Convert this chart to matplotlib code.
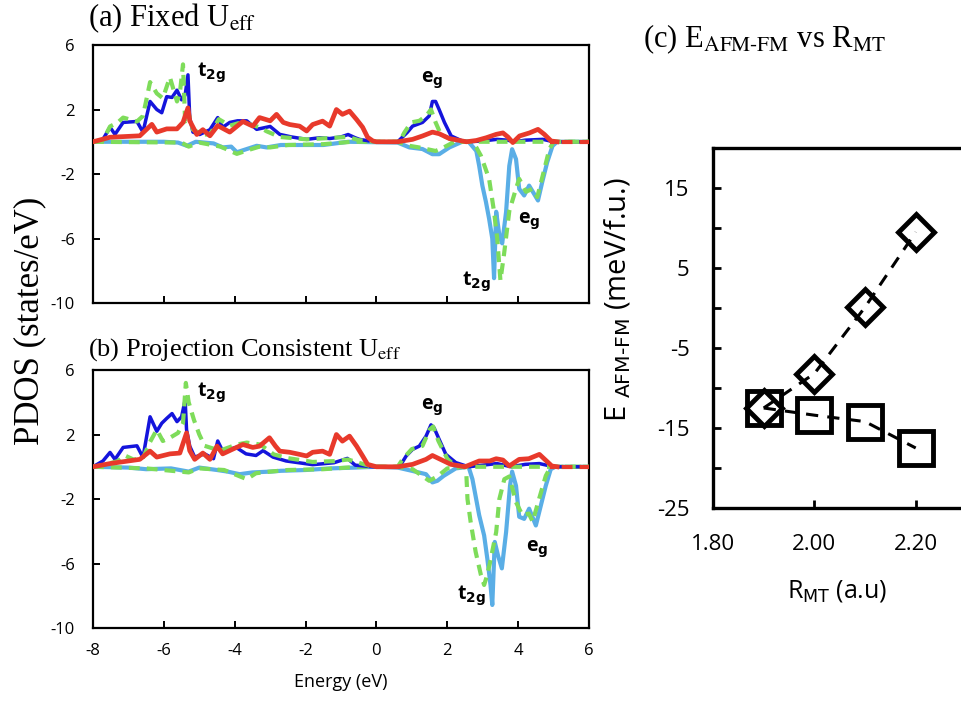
import numpy as np
import matplotlib
matplotlib.use("Agg")
import matplotlib.pyplot as plt

plt.rcParams["axes.unicode_minus"] = False

# ---- PDOS data, (energy eV, states/eV) ----
a_blue_up = [(-8.0, 0), (-7.72, 0.15), (-7.52, 0.9), (-7.38, 0.46), (-7.15, 1.2), (-6.76, 1.26), (-6.59, 0.6),
             (-6.39, 2.5), (-6.2, 2.0), (-6.06, 1.8), (-5.92, 2.8), (-5.77, 2.75), (-5.63, 3.2), (-5.5, 2.6),
             (-5.4, 2.9), (-5.32, 4.15), (-5.27, 1.5), (-5.18, 0.6), (-4.99, 0.45), (-4.7, 0.75), (-4.48, 1.5),
             (-4.34, 0.9), (-4.14, 1.2), (-3.92, 1.3), (-3.66, 1.3), (-3.38, 0.77), (-3.0, 0.95), (-2.73, 0.46),
             (-2.4, 0.3), (-1.97, 0.15), (-1.6, 0.25), (-1.32, 0.2), (-1.0, 0.3), (-0.8, 0.45), (-0.6, 0.25),
             (-0.48, 0.15), (-0.2, 0.05), (0.0, 0), (0.6, 0), (0.87, 0.58), (1.02, 0.97), (1.3, 1.2), (1.49, 1.6),
             (1.58, 2.5), (1.67, 2.5), (1.77, 2.0), (1.92, 1.2), (2.11, 0.36), (2.42, 0.05), (2.6, 0), (3.0, 0.05),
             (3.4, 0.15), (3.7, 0.1), (3.9, 0), (4.2, 0.1), (4.7, 0.15), (5.0, 0), (6.0, 0)]
a_green_up = [(-8.0, 0), (-7.72, 0.1), (-7.52, 0.95), (-7.3, 1.2), (-7.15, 1.5), (-6.76, 1.26), (-6.59, 1.6),
              (-6.39, 3.7), (-6.2, 3.0), (-6.03, 2.7), (-5.83, 4.0), (-5.63, 2.5), (-5.55, 3.0), (-5.46, 4.8),
              (-5.4, 1.26), (-5.32, 1.9), (-5.18, 0.75), (-4.9, 0.45), (-4.7, 0.45), (-4.45, 1.4), (-4.14, 1.0),
              (-3.9, 1.15), (-3.6, 1.1), (-3.3, 0.9), (-3.1, 0.65), (-2.73, 0.3), (-1.97, 0.15), (-1.2, 0.25),
              (-0.8, 0.3), (-0.5, 0.1), (0.0, 0), (0.65, 0), (0.79, 0.58), (0.98, 1.2), (1.21, 1.3), (1.4, 1.6),
              (1.54, 2.0), (1.67, 1.2), (1.82, 0.45), (2.1, 0.15), (2.4, 0), (6.0, 0)]
a_red = [(-8.0, 0), (-7.52, 0.28), (-6.68, 0.37), (-6.34, 1.08), (-6.2, 0.6), (-5.92, 0.8), (-5.63, 0.8),
         (-5.46, 1.2), (-5.32, 2.1), (-5.27, 1.3), (-5.07, 0.45), (-4.9, 0.75), (-4.7, 0.37), (-4.48, 1.0),
         (-4.14, 0.6), (-3.77, 1.26), (-3.49, 0.97), (-3.3, 1.5), (-3.0, 1.3), (-2.82, 1.7), (-2.63, 1.2),
         (-2.45, 1.07), (-2.17, 0.97), (-1.97, 0.67), (-1.8, 1.07), (-1.52, 1.28), (-1.32, 0.97), (-1.13, 2.0),
         (-0.96, 1.7), (-0.76, 1.9), (-0.56, 1.38), (-0.39, 0.9), (-0.25, 0.28), (-0.1, 0.05), (0.0, 0),
         (0.6, 0), (1.02, 0.15), (1.3, 0.36), (1.58, 0.6), (1.77, 0.5), (2.06, 0.2), (2.54, 0), (2.82, 0.08),
         (3.1, 0.25), (3.38, 0.46), (3.57, 0.55), (3.71, 0.3), (3.85, -0.05), (4.04, 0.36), (4.32, 0.55),
         (4.56, 0.77), (4.74, 0.46), (4.93, 0.05), (5.1, 0)]
a_red_dash = [(4.9, 0), (6.0, 0)]
a_lblue_dn = [(-8.0, 0), (-6.0, 0), (-5.6, -0.05), (-5.35, -0.25), (-5.1, 0), (-4.6, -0.1), (-4.34, -0.35),
              (-4.1, -0.3), (-3.94, -0.65), (-3.66, -0.45), (-3.38, -0.25), (-3.1, -0.35), (-2.7, -0.2),
              (-1.5, -0.2), (-0.8, 0), (0.6, -0.05), (0.93, -0.35), (1.3, -0.45), (1.58, -0.77), (1.77, -0.77),
              (2.06, -0.35), (2.42, 0), (2.6, 0), (2.82, -0.57), (2.9, -1.49), (2.99, -2.72), (3.09, -3.72),
              (3.18, -4.77), (3.27, -6.0), (3.32, -8.46), (3.38, -4.34), (3.47, -5.8), (3.55, -6.3),
              (3.66, -4.34), (3.75, -1.5), (3.83, -0.46), (3.94, -1.08), (4.03, -2.92), (4.17, -3.33),
              (4.31, -2.72), (4.45, -3.23), (4.56, -3.64), (4.68, -2.5), (4.82, -1.27), (4.97, -0.26),
              (5.1, 0), (6.0, 0)]
a_green_dn = [(-8.0, 0), (-5.5, -0.05), (-5.3, -0.3), (-5.0, -0.05), (-4.4, -0.3), (-3.94, -0.75), (-3.6, -0.5),
              (-3.3, -0.3), (-3.0, -0.35), (-2.5, -0.2), (-1.5, -0.15), (-0.7, 0), (0.6, 0), (0.93, -0.25),
              (1.2, -0.35), (1.67, -0.57), (1.9, -0.35), (2.2, 0), (2.7, 0), (2.82, -0.35), (2.95, -0.87),
              (3.18, -2.3), (3.32, -4.34), (3.41, -6.0), (3.5, -8.6), (3.6, -7.0), (3.75, -4.3), (3.94, -2.9),
              (4.03, -2.3), (4.22, -3.1), (4.4, -2.92), (4.54, -3.43), (4.74, -1.7), (4.88, -0.46), (5.0, 0),
              (6.0, 0)]

b_blue_up = [(-8.0, 0), (-7.72, 0.36), (-7.52, 0.89), (-7.38, 0.46), (-7.15, 1.2), (-6.76, 1.3), (-6.59, 0.58),
             (-6.39, 3.1), (-6.2, 2.2), (-6.06, 2.7), (-5.92, 3.0), (-5.77, 3.3), (-5.63, 2.8), (-5.5, 3.1),
             (-5.4, 4.15), (-5.36, 2.3), (-5.27, 1.28), (-5.13, 0.6), (-4.85, 0.8), (-4.6, 0.5), (-4.48, 1.6),
             (-4.34, 0.97), (-3.96, 1.2), (-3.68, 0.8), (-3.4, 0.7), (-3.2, 1.0), (-2.92, 0.6), (-2.55, 0.36),
             (-1.8, 0.13), (-1.2, 0.25), (-0.82, 0.52), (-0.6, 0.1), (-0.1, 0), (0.65, 0), (0.84, 0.67),
             (1.02, 1.08), (1.21, 1.28), (1.4, 1.9), (1.54, 2.6), (1.63, 2.4), (1.77, 1.7), (1.96, 0.77),
             (2.24, 0.26), (2.6, 0), (3.0, 0.1), (3.4, 0.2), (3.8, 0), (4.2, 0.15), (4.6, 0.2), (5.0, 0), (6.0, 0)]
b_green_up = [(-8.0, 0), (-7.72, 0.1), (-7.29, 0.36), (-7.1, 0.7), (-6.86, 0.45), (-6.6, 0.5), (-6.4, 1.5),
              (-6.2, 2.3), (-6.03, 1.6), (-5.83, 1.8), (-5.6, 2.1), (-5.46, 2.7), (-5.38, 5.2), (-5.3, 4.0),
              (-5.15, 2.9), (-5.0, 2.0), (-4.85, 1.3), (-4.42, 1.0), (-3.94, 1.38), (-3.66, 1.5), (-3.28, 1.38),
              (-2.9, 0.77), (-2.54, 0.55), (-1.8, 0.3), (-1.2, 0.35), (-0.8, 0.45), (-0.5, 0.25), (-0.1, 0),
              (0.6, 0), (0.75, 0.5), (1.0, 1.1), (1.3, 1.3), (1.5, 2.3), (1.6, 2.5), (1.75, 1.6), (2.0, 0.5),
              (2.2, 0.1), (2.5, 0), (6.0, 0)]
b_red = [(-8.0, 0), (-7.52, 0.2), (-6.68, 0.46), (-6.39, 0.97), (-6.2, 0.6), (-5.83, 0.8), (-5.55, 0.85),
         (-5.36, 2.1), (-5.27, 1.0), (-5.13, 0.46), (-4.9, 0.85), (-4.7, 0.46), (-4.5, 1.28), (-4.34, 0.8),
         (-4.05, 1.1), (-3.77, 1.38), (-3.49, 1.2), (-3.3, 1.28), (-3.02, 1.8), (-2.85, 1.28), (-2.73, 0.97),
         (-2.45, 0.9), (-2.17, 0.77), (-1.97, 0.67), (-1.8, 0.9), (-1.52, 0.97), (-1.32, 0.77), (-1.13, 2.0),
         (-0.96, 1.59), (-0.76, 1.9), (-0.56, 1.28), (-0.39, 0.67), (-0.25, 0.15), (0.0, 0), (0.6, 0),
         (1.02, 0.15), (1.4, 0.46), (1.58, 0.7), (1.77, 0.5), (2.1, 0.15), (2.5, 0), (2.9, 0.36), (3.2, 0.36),
         (3.38, 0.5), (3.57, 0.42), (3.75, 0.05), (4.03, 0.46), (4.3, 0.5), (4.6, 0.77), (4.8, 0.36),
         (4.95, 0.05), (5.1, 0)]
b_red_dash = [(4.9, 0), (6.0, 0)]
b_lblue_dn = [(-8.0, 0), (-7.0, -0.05), (-6.5, -0.15), (-5.8, -0.1), (-5.3, -0.3), (-5.0, -0.05), (-4.5, -0.2),
              (-4.2, -0.3), (-3.86, -0.46), (-3.5, -0.35), (-3.0, -0.3), (-2.7, -0.25), (-2.0, -0.2),
              (-1.3, -0.1), (-0.6, -0.05), (0.0, 0), (0.6, -0.05), (1.02, -0.26), (1.4, -0.46), (1.58, -0.97),
              (1.72, -0.87), (1.9, -0.56), (2.24, -0.1), (2.6, 0), (2.71, -0.77), (2.9, -3.0), (3.04, -4.26),
              (3.13, -5.7), (3.22, -7.33), (3.27, -8.57), (3.34, -4.66), (3.43, -5.49), (3.54, -6.3),
              (3.66, -4.05), (3.77, -1.18), (3.83, -0.3), (3.94, -1.18), (4.03, -3.1), (4.17, -3.23),
              (4.31, -2.6), (4.5, -3.64), (4.64, -2.41), (4.78, -1.18), (4.92, -0.15), (5.05, 0), (6.0, 0)]
b_green_dn = [(-8.0, 0), (-6.5, -0.1), (-5.3, -0.35), (-5.0, -0.1), (-4.3, -0.2), (-3.66, -0.77), (-3.4, -0.4),
              (-3.0, -0.3), (-2.5, -0.2), (-1.5, -0.15), (-0.5, 0), (0.6, 0), (1.02, -0.15), (1.49, -0.87),
              (1.72, -0.6), (2.0, -0.1), (2.5, 0), (2.54, -0.56), (2.57, -2.0), (2.66, -3.43), (2.8, -5.27),
              (2.95, -6.72), (3.04, -7.33), (3.1, -6.9), (3.2, -6.0), (3.38, -4.05), (3.47, -2.0), (3.61, -0.77),
              (3.75, -0.6), (3.94, -2.2), (4.12, -3.0), (4.3, -2.9), (4.41, -3.4), (4.59, -2.0), (4.78, -0.56),
              (4.92, 0), (6.0, 0)]

# ---- panel (c) ----
r_mt = [1.9, 2.0, 2.1, 2.2]
e_diamond = [-12.5, -8.2, 0.1, 9.5]
e_square = [-12.5, -13.4, -14.2, -17.5]

BLUE = "#1414dc"
LBLUE = "#5aaee6"
GREEN = "#7edc5a"
RED = "#e8392b"
DASH = (0, (2.6, 1.7))

fig = plt.figure(figsize=(9.61, 7.09), dpi=100)
serif = "Liberation Serif"
sans = "Open Sans"


def draw_pdos(ax, blue, green_up, red, red_dash, lblue, green_dn):
    def xy(d):
        return np.array(d).T
    ax.plot(*xy(lblue), color=LBLUE, lw=3.0, solid_joinstyle="round", zorder=2)
    ax.plot(*xy(green_dn), color=GREEN, lw=3.0, ls=DASH, zorder=3)
    ax.plot(*xy(blue), color=BLUE, lw=2.5, solid_joinstyle="round", zorder=4)
    ax.plot(*xy(green_up), color=GREEN, lw=3.0, ls=DASH, zorder=5)
    ax.plot(*xy(red), color=RED, lw=3.4, solid_joinstyle="round", zorder=6)
    ax.plot(*xy(red_dash), color=RED, lw=3.0, ls=(1.5, (2.6, 1.7)), zorder=6)
    ax.set_xlim(-8, 6)
    ax.set_ylim(-10, 6)
    ax.set_yticks([6, 2, -2, -6, -10])
    ax.set_xticks([-8, -6, -4, -2, 0, 2, 4, 6])
    ax.tick_params(direction="in", length=5, width=1.4, labelsize=12)
    ax.tick_params(axis="y", pad=13)
    ax.tick_params(axis="x", pad=11)
    for lab in ax.get_xticklabels() + ax.get_yticklabels():
        lab.set_family(sans)
    for s in ax.spines.values():
        s.set_linewidth(1.6)


ax_a = fig.add_axes([0.0968, 0.5726, 0.5161, 0.3639])
draw_pdos(ax_a, a_blue_up, a_green_up, a_red, a_red_dash, a_lblue_dn, a_green_dn)
ax_a.tick_params(labelbottom=False)

ax_b = fig.add_axes([0.0968, 0.1142, 0.5161, 0.3639])
draw_pdos(ax_b, b_blue_up, b_green_up, b_red, b_red_dash, b_lblue_dn, b_green_dn)
ax_b.set_xlabel("Energy (eV)", family=sans, fontsize=13, labelpad=10)

lab_kw = dict(family=sans, fontweight="bold", fontsize=14, ha="left", va="center")
ax_a.text(-5.07, 4.3, r"t$_\mathbf{2g}$", **lab_kw)
ax_a.text(1.25, 3.8, r"e$_\mathbf{g}$", **lab_kw)
ax_a.text(4.0, -4.9, r"e$_\mathbf{g}$", **lab_kw)
ax_a.text(2.42, -8.65, r"t$_\mathbf{2g}$", **lab_kw)
ax_b.text(-5.07, 4.6, r"t$_\mathbf{2g}$", **lab_kw)
ax_b.text(1.25, 3.7, r"e$_\mathbf{g}$", **lab_kw)
ax_b.text(4.23, -5.1, r"e$_\mathbf{g}$", **lab_kw)
ax_b.text(2.28, -8.0, r"t$_\mathbf{2g}$", **lab_kw)

fig.text(0.092, 0.975, r"(a) Fixed U$_{\rm eff}$", family=serif, fontsize=22, va="center", ha="left",
         math_fontfamily="stix")
fig.text(0.092, 0.507, r"(b) Projection Consistent U$_{\rm eff}$", family=serif, fontsize=19, va="center",
         ha="left", math_fontfamily="stix")
fig.text(0.031, 0.547, "PDOS (states/eV)", family=serif, fontsize=25, rotation=90, va="center", ha="center")

# panel (c)
ax_c = fig.add_axes([0.742, 0.2835, 0.3163, 0.5078])
ax_c.plot(r_mt, e_square, color="black", lw=2.2, ls=(0, (4, 3)), marker="s", ms=24, mew=3.5,
          mfc="none", mec="black", zorder=3)
ax_c.plot(r_mt, e_diamond, color="black", lw=2.2, ls=(0, (4, 3)), marker="D", ms=18, mew=3.5,
          mfc="none", mec="black", zorder=4)
ax_c.set_xlim(1.8, 2.4)
ax_c.set_ylim(-25, 20)
ax_c.set_xticks([1.8, 2.0, 2.2])
ax_c.set_xticklabels(["1.80", "2.00", "2.20"])
ax_c.set_yticks([-25, -15, -5, 5, 15])
ax_c.set_yticks([-20, -10, 0, 10], minor=True)
ax_c.tick_params(which="both", direction="in", length=6, width=2, labelsize=16)
ax_c.tick_params(axis="y", pad=17)
ax_c.tick_params(axis="x", pad=19)
for lab in ax_c.get_xticklabels() + ax_c.get_yticklabels():
    lab.set_family(sans)
for s in ax_c.spines.values():
    s.set_linewidth(2.4)
ax_c.set_ylabel(r"E $_{\rm AFM\text{-}FM}$ (meV/f.u.)", family=sans, fontsize=21)
ax_c.yaxis.set_label_coords(-0.263, 0.58)
ax_c.set_xlabel(r"R$_{\rm MT}$ (a.u)", family=sans, fontsize=18)
ax_c.xaxis.set_label_coords(0.408, -0.195)
fig.text(0.669, 0.944, r"(c) E$_{\rm AFM\text{-}FM}$ vs R$_{\rm MT}$", family=serif, fontsize=22,
         va="center", ha="left", math_fontfamily="stix")

fig.savefig("out.png", dpi=100)
